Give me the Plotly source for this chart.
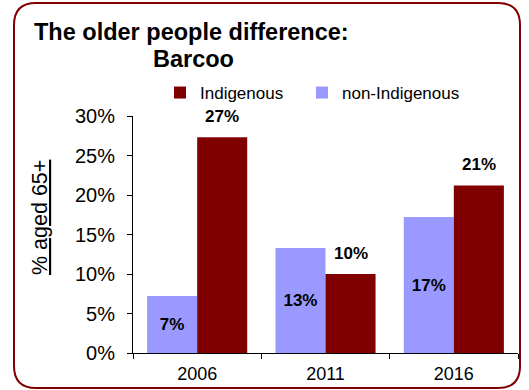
import plotly.graph_objects as go

# Census years and share of population aged 65+ (percent)
years = ["2006", "2011", "2016"]
non_indigenous = [7.2, 13.3, 17.2]
indigenous = [27.3, 10.0, 21.2]
non_indigenous_labels = ["7%", "13%", "17%"]
indigenous_labels = ["27%", "10%", "21%"]
y_ticks = [0, 5, 10, 15, 20, 25, 30]
y_tick_labels = ["0%", "5%", "10%", "15%", "20%", "25%", "30%"]

W, H = 529, 390
ML, MR, MT, MB = 133, 11, 116, 37
PW, PH = W - ML - MR, H - MT - MB

FONT = "Liberation Sans, Arial, Helvetica, sans-serif"
RED = "#800000"
LILAC = "#9999FF"


def px(x):
    return (x - ML) / PW


def py(y):
    return (H - MB - y) / PH


fig = go.Figure()
fig.add_trace(go.Bar(
    x=years, y=non_indigenous, name="non-Indigenous", legend="legend2",
    marker=dict(color=LILAC, line=dict(width=0)),
    text=non_indigenous_labels, textposition="inside",
    insidetextanchor="middle",
    insidetextfont=dict(family=FONT, size=17, color="black", weight="bold"),
    hoverinfo="skip",
))
fig.add_trace(go.Bar(
    x=years, y=indigenous, name="Indigenous", legend="legend",
    marker=dict(color=RED, line=dict(width=0)),
    hoverinfo="skip",
))

# value labels above the Indigenous bars
bar_gap = 0.22
half_bar = (1 - bar_gap) / 4
for i, (v, lab) in enumerate(zip(indigenous, indigenous_labels)):
    fig.add_annotation(
        x=i + half_bar, y=v, xref="x", yref="y", text=lab,
        showarrow=False, yanchor="middle", yshift=21,
        font=dict(family=FONT, size=17, color="black", weight="bold"),
    )

# title
fig.add_annotation(
    x=px(32), y=py(31.5), xref="paper", yref="paper", xanchor="left",
    yanchor="middle", text="The older people difference:", showarrow=False,
    font=dict(family=FONT, size=23.5, color="black", weight="bold"),
)
fig.add_annotation(
    x=px(151), y=py(59.5), xref="paper", yref="paper", xanchor="left",
    yanchor="middle", text="Barcoo", showarrow=False,
    font=dict(family=FONT, size=23.5, color="black", weight="bold"),
)

# y-axis title
fig.add_annotation(
    x=px(40), y=py(218), xref="paper", yref="paper", xanchor="center",
    yanchor="middle", text="% aged 65+", textangle=-90, showarrow=False,
    font=dict(family=FONT, size=21.5, color="black", lineposition="under"),
)

# rounded frame
L, R, T, B, r = 14, 520, 3, 388, 22
path = (
    f"M{px(L + r)},{py(T)} H{px(R - r)} Q{px(R)},{py(T)} {px(R)},{py(T + r)} "
    f"V{py(B - r)} Q{px(R)},{py(B)} {px(R - r)},{py(B)} H{px(L + r)} "
    f"Q{px(L)},{py(B)} {px(L)},{py(B - r)} V{py(T + r)} "
    f"Q{px(L)},{py(T)} {px(L + r)},{py(T)} Z"
)
fig.add_shape(type="path", path=path, xref="paper", yref="paper",
              line=dict(color=RED, width=2), layer="below")

legend_style = dict(
    orientation="h", xanchor="left", yanchor="middle",
    font=dict(family=FONT, size=17, color="black"),
    bgcolor="rgba(0,0,0,0)", borderwidth=0,
)

fig.update_layout(
    width=W, height=H,
    margin=dict(l=ML, r=MR, t=MT, b=MB, pad=0, autoexpand=False),
    paper_bgcolor="white", plot_bgcolor="white",
    barmode="group", bargap=bar_gap, bargroupgap=0,
    font=dict(family=FONT, color="black"),
    showlegend=True,
    legend=dict(x=px(160), y=py(93), **legend_style),
    legend2=dict(x=px(302), y=py(93), **legend_style),
    xaxis=dict(
        showline=True, linecolor="black", linewidth=1,
        ticks="outside", tickson="boundaries", ticklen=5,
        tickcolor="black", showgrid=False, automargin=False,
        tickfont=dict(family=FONT, size=18, color="black"),
        ticklabelstandoff=4,
    ),
    yaxis=dict(
        range=[0, 30], tickvals=y_ticks, ticktext=y_tick_labels,
        showline=True, linecolor="black", linewidth=1,
        ticks="outside", ticklen=5, tickcolor="black",
        showgrid=False, zeroline=False, automargin=False,
        tickfont=dict(family=FONT, size=20, color="black"),
        ticklabelstandoff=8,
    ),
)

fig.write_html("out.html")
